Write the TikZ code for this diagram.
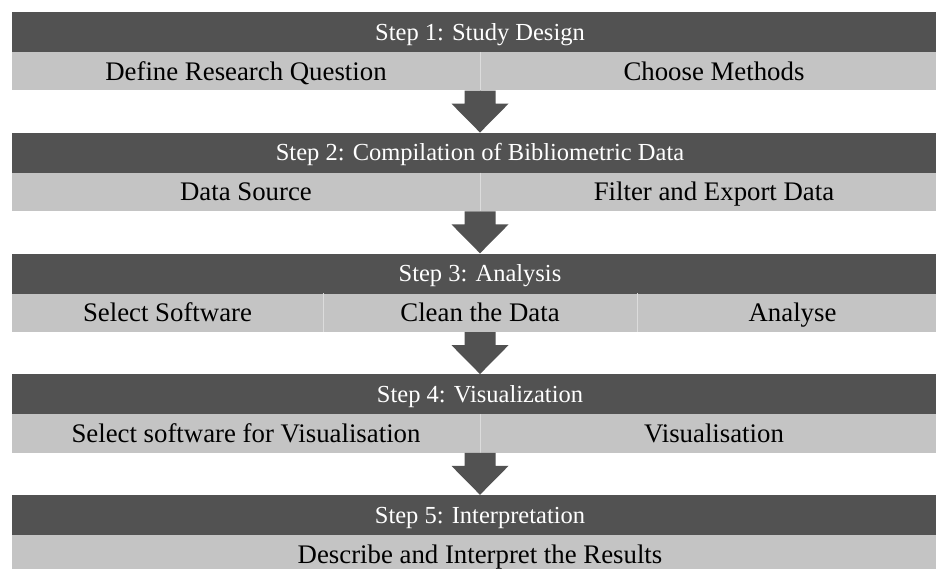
\documentclass[tikz,border=0pt]{standalone}
\usepackage{fontspec}
\setmainfont{Liberation Serif}
\usetikzlibrary{calc}
\definecolor{darkbar}{HTML}{525252}
\definecolor{lightbar}{HTML}{C4C4C4}
\definecolor{divline}{HTML}{DCDCDC}
\tikzset{
  hdr/.style={rectangle, fill=darkbar, text=white, inner sep=0pt, minimum width=936pt, minimum height=40pt, text height=22pt, text depth=5.8pt, font=\fontsize{24.5}{28}\selectfont},
  cell/.style={rectangle, fill=lightbar, text=black, inner sep=0pt, minimum height=38.5pt, text height=24.1pt, text depth=6.4pt, font=\fontsize{26.8}{30}\selectfont},
  half/.style={cell, minimum width=468pt},
  third/.style={cell},
  full/.style={cell, minimum width=936pt},
  divider/.style={draw=divline, line width=1.2pt},
  arrowfill/.style={fill=darkbar}
}
\newcommand\stagearrow[2]{%
  \fill[arrowfill] let \p1=(#2.north |- #1.south), \p2=(#2.north) in
    (\x1-15.5pt,\y1) -- (\x1+15.5pt,\y1) -- (\x1+15.5pt,\y1-13pt) -- (\x1+28.5pt,\y1-13pt)
    -- (\x1,\y2) -- (\x1-28.5pt,\y1-13pt) -- (\x1-15.5pt,\y1-13pt) -- cycle;}
\begin{document}
\begin{tikzpicture}[x=1pt,y=-1pt]
\useasboundingbox (0,0) rectangle (936,569);
% Step 1
\node[hdr] (h1) at (480,32) {Step 1: Study Design};
\node[half] (c1a) at (246,71.25) {Define Research Question};
\node[half] (c1b) at (714,71.25) {Choose Methods};
\draw[divider] (c1a.north east) -- (c1a.south east);
% Step 2
\node[hdr] (h2) at (480,152.75) {Step 2: Compilation of Bibliometric Data};
\node[half] (c2a) at (246,192) {Data Source};
\node[half] (c2b) at (714,192) {Filter and Export Data};
\draw[divider] (c2a.north east) -- (c2a.south east);
% Step 3
\node[hdr] (h3) at (480,273.5) {Step 3: Analysis};
\node[third, minimum width=311pt] (c3a) at (167.5,312.75) {Select Software};
\node[third, minimum width=314pt] (c3b) at (480,312.75) {Clean the Data};
\node[third, minimum width=311pt] (c3c) at (792.5,312.75) {Analyse};
\draw[divider] (c3a.north east) -- (c3a.south east);
\draw[divider] (c3b.north east) -- (c3b.south east);
% Step 4
\node[hdr] (h4) at (480,394.25) {Step 4: Visualization};
\node[half] (c4a) at (246,433.5) {Select software for Visualisation};
\node[half] (c4b) at (714,433.5) {Visualisation};
\draw[divider] (c4a.north east) -- (c4a.south east);
% Step 5
\node[hdr] (h5) at (480,515) {Step 5: Interpretation};
\node[full] (c5) at (480,554.25) {Describe and Interpret the Results};
% Arrows
\stagearrow{c1a}{h2}
\stagearrow{c2a}{h3}
\stagearrow{c3b}{h4}
\stagearrow{c4a}{h5}
\end{tikzpicture}
\end{document}
